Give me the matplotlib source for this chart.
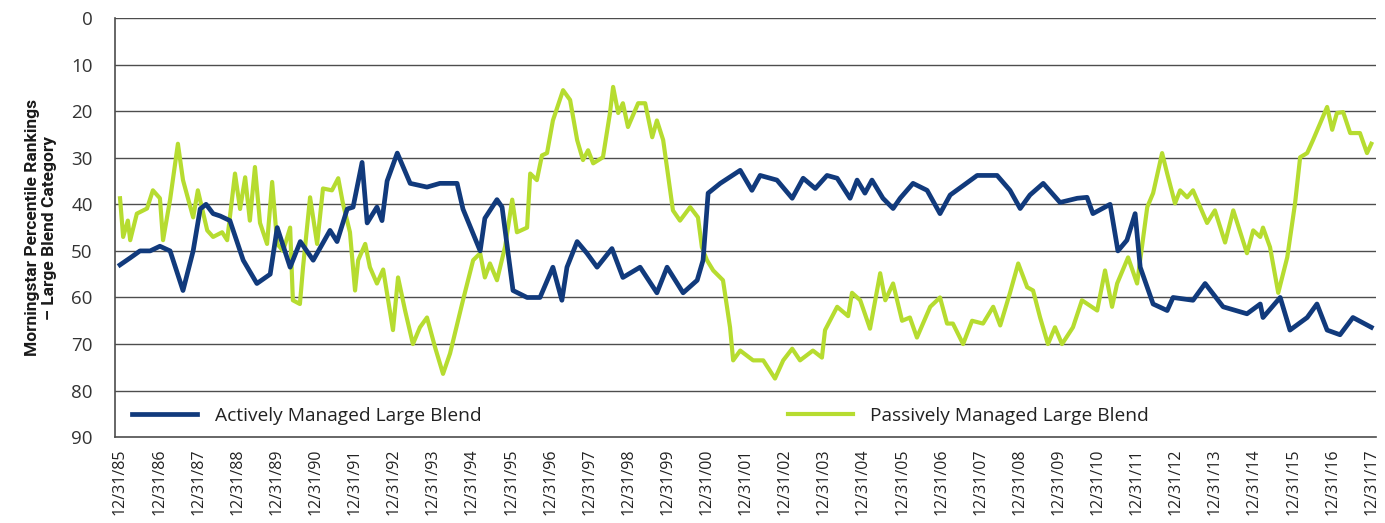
import numpy as np
import matplotlib
matplotlib.use("Agg")
import matplotlib.pyplot as plt

# dates as decimal years, values are percentile ranks (lower = better)
active_dates = [1986.00, 1986.26, 1986.51, 1986.77, 1987.02, 1987.28, 1987.61, 1987.87, 1988.05, 1988.20,
                1988.38, 1988.56, 1988.81, 1989.15, 1989.50, 1989.84, 1990.02, 1990.35, 1990.61, 1990.94,
                1991.37, 1991.55, 1991.81, 1991.96, 1992.19, 1992.32, 1992.57, 1992.70, 1992.83, 1993.09,
                1993.42, 1993.85, 1994.18, 1994.62, 1994.77, 1995.21, 1995.33, 1995.64, 1995.77, 1996.05,
                1996.41, 1996.74, 1997.07, 1997.30, 1997.43, 1997.69, 1997.94, 1998.20, 1998.58, 1998.86,
                1999.30, 1999.73, 1999.99, 2000.40, 2000.76, 2000.91, 2001.04, 2001.35, 2001.86, 2002.16,
                2002.37, 2002.80, 2003.19, 2003.47, 2003.78, 2004.08, 2004.34, 2004.67, 2004.85, 2005.05,
                2005.23, 2005.51, 2005.77, 2005.95, 2006.28, 2006.64, 2006.97, 2007.23, 2007.56, 2007.92,
                2008.43, 2008.76, 2009.02, 2009.27, 2009.61, 2010.04, 2010.48, 2010.73, 2010.88, 2011.32,
                2011.52, 2011.75, 2011.96, 2012.09, 2012.42, 2012.78, 2012.93, 2013.44, 2013.75, 2014.21,
                2014.82, 2015.16, 2015.23, 2015.67, 2015.92, 2016.36, 2016.61, 2016.87, 2017.20, 2017.53,
                2018.00]
active_rank = [53, 51.5, 50, 50, 49, 50, 58.5, 50, 41, 40,
               42, 42.5, 43.5, 52, 57, 55, 45, 53.5, 48, 52,
               45.6, 48, 41, 40.6, 31, 44, 40.6, 43.5, 35, 29,
               35.5, 36.3, 35.5, 35.5, 41, 50, 43, 39, 40.6, 58.5,
               60, 60, 53.5, 60.6, 53.5, 48, 50.5, 53.5, 49.5, 55.7,
               53.5, 59, 53.5, 59, 56.3, 52, 37.6, 35.5, 32.7, 37,
               33.8, 34.8, 38.7, 34.4, 36.6, 33.8, 34.4, 38.7, 34.8, 37.6,
               34.8, 38.7, 40.9, 38.7, 35.5, 37, 42, 38, 36, 33.8,
               33.8, 37, 40.9, 38, 35.5, 39.6, 38.7, 38.5, 42, 40,
               50, 47.7, 42, 53.5, 61.4, 62.8, 60, 60.6, 57, 62,
               63.5, 61.4, 64.3, 60, 67, 64.3, 61.4, 67, 68, 64.3,
               66.4]

passive_dates = [1986.00, 1986.08, 1986.20, 1986.26, 1986.43, 1986.69, 1986.84, 1987.02, 1987.10, 1987.28,
                 1987.48, 1987.61, 1987.87, 1987.99, 1988.23, 1988.38, 1988.61, 1988.74, 1988.94, 1989.07,
                 1989.20, 1989.32, 1989.45, 1989.58, 1989.76, 1989.89, 1990.02, 1990.17, 1990.35, 1990.42,
                 1990.60, 1990.68, 1990.86, 1991.04, 1991.19, 1991.42, 1991.58, 1991.70, 1991.88, 1992.01,
                 1992.09, 1992.27, 1992.39, 1992.57, 1992.73, 1992.98, 1993.11, 1993.29, 1993.49, 1993.67,
                 1993.85, 1994.06, 1994.26, 1994.44, 1994.77, 1995.03, 1995.21, 1995.33, 1995.46, 1995.64,
                 1995.85, 1996.03, 1996.15, 1996.41, 1996.49, 1996.66, 1996.79, 1996.92, 1997.07, 1997.33,
                 1997.51, 1997.69, 1997.84, 1997.97, 1998.10, 1998.35, 1998.53, 1998.61, 1998.74, 1998.86,
                 1998.99, 1999.25, 1999.43, 1999.61, 1999.73, 1999.89, 2000.14, 2000.32, 2000.58, 2000.78,
                 2000.88, 2001.01, 2001.17, 2001.42, 2001.60, 2001.68, 2001.86, 2002.19, 2002.45, 2002.75,
                 2002.96, 2003.19, 2003.39, 2003.72, 2003.95, 2004.03, 2004.34, 2004.62, 2004.72, 2004.93,
                 2005.18, 2005.44, 2005.57, 2005.77, 2006.00, 2006.20, 2006.38, 2006.72, 2006.97, 2007.15,
                 2007.30, 2007.56, 2007.79, 2008.07, 2008.33, 2008.51, 2008.76, 2008.97, 2009.20, 2009.35,
                 2009.53, 2009.73, 2009.91, 2010.09, 2010.37, 2010.60, 2010.99, 2011.19, 2011.37, 2011.50,
                 2011.78, 2012.01, 2012.27, 2012.42, 2012.65, 2012.78, 2012.98, 2013.11, 2013.29, 2013.44,
                 2013.80, 2014.00, 2014.26, 2014.47, 2014.82, 2014.98, 2015.16, 2015.23, 2015.41, 2015.62,
                 2015.85, 2016.05, 2016.18, 2016.36, 2016.51, 2016.87, 2017.00, 2017.12, 2017.28, 2017.46,
                 2017.71, 2017.89, 2018.00]
passive_rank = [38.7, 47, 43.5, 47.7, 42, 40.9, 37, 38.7, 47.7, 39,
                27, 34.8, 42.8, 37, 45.6, 47, 46, 47.7, 33.4, 41,
                34.2, 43.5, 32, 44, 48.5, 35.2, 48.5, 50, 45, 60.6,
                61.4, 53.5, 38.5, 48.5, 36.6, 37, 34.4, 39.8, 46, 58.5,
                52, 48.5, 53.5, 57, 54, 67, 55.7, 62.8, 70, 66.4,
                64.3, 70.8, 76.4, 72, 60.6, 52, 50.5, 55.7, 52.7, 56.3,
                49, 39, 46, 45, 33.4, 34.8, 29.5, 29, 22, 15.5,
                17.6, 26.2, 30.5, 28.4, 31.2, 29.9, 20.4, 14.8, 20.4, 18.3,
                23.4, 18.3, 18.3, 25.6, 22, 26.2, 41.3, 43.5, 40.6, 42.8,
                49.2, 52, 54.2, 56.3, 66.4, 73.5, 71.4, 73.5, 73.5, 77.4,
                73.5, 71, 73.5, 71.4, 72.9, 67, 62, 64, 59, 60.6,
                66.7, 54.8, 60.6, 57, 65, 64.3, 68.6, 62, 60, 65.6,
                65.6, 70, 65, 65.6, 62, 66, 59, 52.7, 57.8, 58.5,
                64.3, 70, 66.4, 70, 66.4, 60.6, 62.8, 54.2, 62, 57,
                51.4, 57, 40.6, 37.6, 29, 33.4, 39.8, 37, 38.5, 37,
                44, 41.3, 48.2, 41.3, 50.5, 45.6, 47, 45, 49.2, 59,
                51.4, 39.8, 29.9, 29, 26.2, 19.1, 24, 20.4, 20.2, 24.7,
                24.7, 29, 27]

tick_years = list(range(1986, 2019))
tick_labels = ["12/31/%02d" % ((y - 1) % 100) for y in tick_years]
y_ticks = list(range(0, 100, 10))

navy = "#113a7c"
lime = "#b6dc30"
grid_col = "#4d4d4d"


def plot_rankings():
    fig = plt.figure(figsize=(13.85, 5.23), dpi=100)
    ax = fig.add_axes([0.083, 0.164, 0.9105, 0.8016])

    for v in y_ticks[:-1]:
        ax.axhline(v, color=grid_col, linewidth=1.0, zorder=1)

    ax.plot(active_dates, active_rank, color=navy, linewidth=3.4, label="Actively Managed Large Blend", zorder=3)
    ax.plot(passive_dates, passive_rank, color=lime, linewidth=3.0, label="Passively Managed Large Blend", zorder=2)

    ax.set_xlim(1985.87, 2018.12)
    ax.set_ylim(90, 0)
    ax.set_yticks(y_ticks)
    ax.set_yticklabels([str(v) for v in y_ticks], fontsize=13.5, color="#333333", family=["Open Sans", "DejaVu Sans"])
    ax.set_xticks(tick_years)
    ax.set_xticklabels(tick_labels, rotation=90, fontsize=11.5, color="#222222", family=["Open Sans", "DejaVu Sans"])
    ax.tick_params(axis="both", length=0, pad=8)
    ax.tick_params(axis="y", pad=16)

    for side in ["top", "right"]:
        ax.spines[side].set_visible(False)
    ax.spines["left"].set_color(grid_col)
    ax.spines["left"].set_linewidth(1.2)
    ax.spines["bottom"].set_color(grid_col)
    ax.spines["bottom"].set_linewidth(1.2)

    ax.set_ylabel("Morningstar Percentile Rankings\n\u2013 Large Blend Category", fontsize=12.5, fontweight="bold",
                  family=["Liberation Sans Narrow", "Roboto", "DejaVu Sans"], labelpad=10, color="#1a1a1a")

    leg = ax.legend(loc="lower left", bbox_to_anchor=(0.0, -0.012), ncol=2, frameon=False,
                    handlelength=3.4, columnspacing=16.0, handletextpad=0.9,
                    prop={"family": ["Open Sans", "DejaVu Sans"], "size": 13.8})
    for t in leg.get_texts():
        t.set_color("#222222")

    fig.savefig("out.png", dpi=100)


plot_rankings()
